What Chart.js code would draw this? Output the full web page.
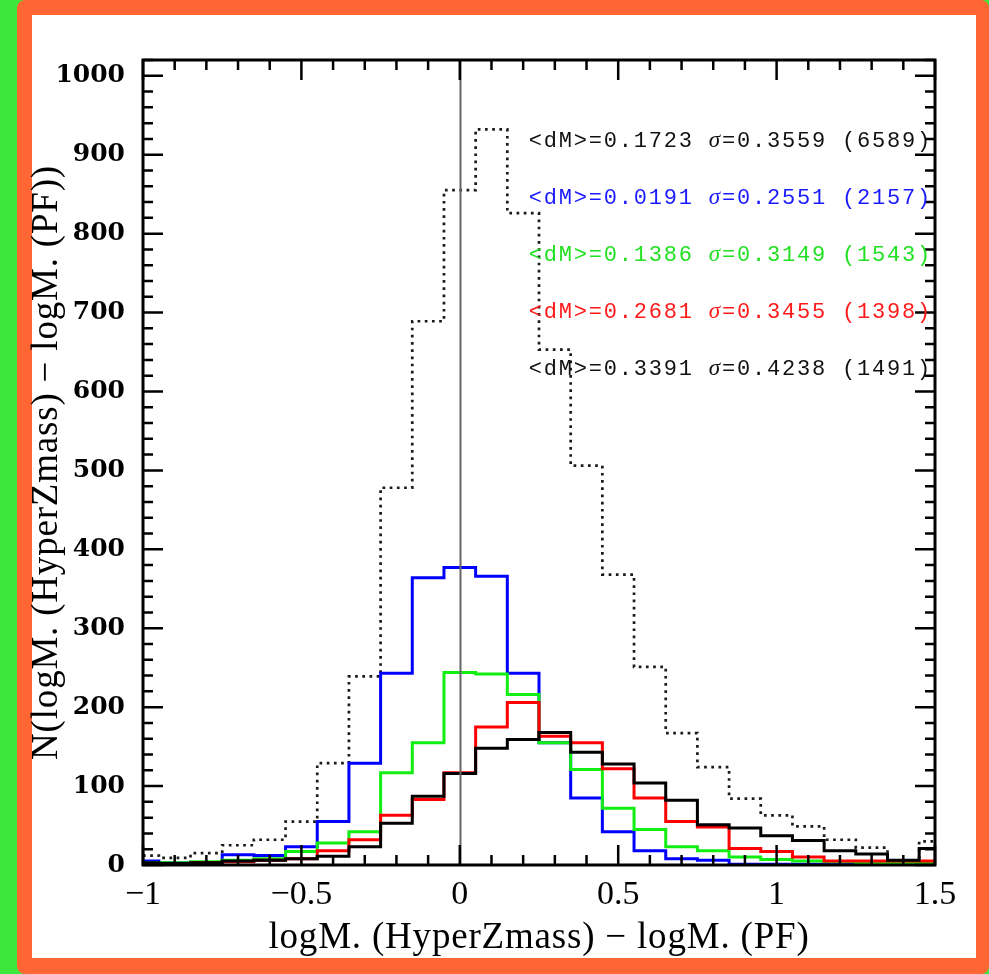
<!DOCTYPE html>
<html lang="en">
<head>
<meta charset="UTF-8">
<title>logM. (HyperZmass) - logM. (PF)</title>
<script src="https://cdn.jsdelivr.net/npm/chart.js"></script>
<style>
    html, body { margin: 0; padding: 0; }
    body {
        width: 989px;
        height: 974px;
        position: relative;
        overflow: hidden;
        background: #3de83d;
    }
    .frame {
        position: absolute;
        left: 17px;
        top: 0;
        width: 972px;
        height: 974px;
        box-sizing: border-box;
        border: solid #ff6633;
        border-width: 15px 13px 16px 15px;
        border-radius: 8px;
        background: #fff;
    }
    .chart-box {
        position: absolute;
        left: 0;
        top: 0;
        width: 989px;
        height: 974px;
    }
</style>
</head>
<body>
<div class="frame"></div>
<div class="chart-box"><canvas id="histChart"></canvas></div>

<script>
    // bin centres of the 0.1 wide histogram bins
    const binCenters = [-1.0, -0.9, -0.8, -0.7, -0.6, -0.5, -0.4, -0.3, -0.2, -0.1, 0.0, 0.1, 0.2,
                        0.3, 0.4, 0.5, 0.6, 0.7, 0.8, 0.9, 1.0, 1.1, 1.2, 1.3, 1.4, 1.5];

    const allCounts   = [12, 9, 15, 25, 32, 55, 129, 239, 478, 689, 855, 932, 826,
                         653, 506, 368, 251, 167, 124, 84, 63, 49, 32, 22, 6, 30];
    const blueCounts  = [5, 3, 3, 13, 12, 23, 55, 129, 243, 364, 377, 366, 243,
                         155, 85, 42, 18, 8, 6, 1, 1, 1, 1, 0, 0, 2];
    const greenCounts = [3, 3, 4, 6, 8, 17, 28, 42, 117, 155, 244, 242, 216,
                         155, 121, 72, 45, 23, 18, 10, 7, 5, 4, 3, 2, 3];
    const redCounts   = [2, 2, 3, 4, 6, 8, 18, 32, 63, 83, 117, 175, 206,
                         163, 155, 122, 85, 55, 48, 21, 17, 10, 5, 5, 5, 5];
    const blackCounts = [3, 2, 3, 5, 6, 8, 11, 23, 53, 87, 116, 148, 159,
                         168, 143, 128, 104, 82, 51, 47, 37, 31, 18, 14, 6, 21];

    // statistics printed in the upper right
    const meanDM  = [0.1723, 0.0191, 0.1386, 0.2681, 0.3391];
    const sigmaDM = [0.3559, 0.2551, 0.3149, 0.3455, 0.4238];
    const nObj    = [6589, 2157, 1543, 1398, 1491];
    const statColors = ['#111111', '#1a1aff', '#22e022', '#ff1a1a', '#111111'];

    const xMinorStep = 0.1;
    const yMinorStep = 20;

    const toPoints = counts => binCenters.map((c, i) => ({ x: c, y: counts[i] }));

    const serif = '"Liberation Serif", "Times New Roman", serif';

    const axisDecor = {
        id: 'axisDecor',
        afterDatasetsDraw(chart) {
            const { ctx, chartArea: a, scales: { x, y } } = chart;
            ctx.save();

            // vertical line at zero
            const x0 = Math.round(x.getPixelForValue(0)) + 0.5;
            ctx.strokeStyle = '#666666';
            ctx.lineWidth = 2;
            ctx.beginPath();
            ctx.moveTo(x0, a.top);
            ctx.lineTo(x0, a.bottom);
            ctx.stroke();

            // inward ticks on all four sides
            ctx.strokeStyle = '#000';
            ctx.lineWidth = 2.5;
            ctx.beginPath();
            const nx = Math.round((x.max - x.min) / xMinorStep);
            for (let i = 0; i <= nx; i++) {
                const px = x.getPixelForValue(x.min + i * xMinorStep);
                const len = i % 5 === 0 ? 20 : 10;
                ctx.moveTo(px, a.bottom); ctx.lineTo(px, a.bottom - len);
                ctx.moveTo(px, a.top); ctx.lineTo(px, a.top + len);
            }
            for (let v = 0; v <= y.max; v += yMinorStep) {
                const py = y.getPixelForValue(v);
                const len = v % 100 === 0 ? 20 : 10;
                ctx.moveTo(a.left, py); ctx.lineTo(a.left + len, py);
                ctx.moveTo(a.right, py); ctx.lineTo(a.right - len, py);
            }
            ctx.stroke();

            ctx.lineWidth = 3;
            ctx.strokeRect(a.left, a.top, a.right - a.left, a.bottom - a.top);

            // statistics text
            ctx.textBaseline = 'alphabetic';
            ctx.letterSpacing = '1.8px';
            const mono = '22px "Liberation Mono", "DejaVu Sans Mono", monospace';
            const ital = 'italic 23px "Liberation Serif", serif';
            meanDM.forEach((m, i) => {
                const p1 = '<dM>=' + m.toFixed(4) + ' ';
                const p2 = '=' + sigmaDM[i].toFixed(4) + ' (' + nObj[i] + ')';
                ctx.font = mono;
                const w1 = ctx.measureText(p1).width;
                const w3 = ctx.measureText(p2).width;
                ctx.font = ital;
                const w2 = ctx.measureText('σ').width;
                const right = a.right - 3;
                const left = right - (w1 + w2 + w3);
                const base = a.top + 86.5 + i * 57;
                ctx.fillStyle = statColors[i];
                ctx.font = mono;
                ctx.fillText(p1, left, base);
                ctx.font = ital;
                ctx.fillText('σ', left + w1, base);
                ctx.font = mono;
                ctx.fillText(p2, left + w1 + w2, base);
            });

            // axis titles
            ctx.letterSpacing = '0.8px';
            ctx.fillStyle = '#000';
            ctx.font = '37px ' + serif;
            ctx.textAlign = 'center';
            ctx.textBaseline = 'alphabetic';
            ctx.fillText('logM. (HyperZmass) \u2212 logM. (PF)', (a.left + a.right) / 2, 948);

            ctx.translate(57, (a.top + a.bottom) / 2);
            ctx.rotate(-Math.PI / 2);
            ctx.fillText('N(logM. (HyperZmass) \u2212 logM. (PF))', 0, 0);
            ctx.restore();
        }
    };

    function noPad(scale) {
        scale.paddingLeft = 0;
        scale.paddingRight = 0;
        scale.paddingTop = 0;
        scale.paddingBottom = 0;
    }

    function drawHistogram(id) {
        const ctx = document.getElementById(id).getContext('2d');
        const line = (data, color, order, dash) => ({
            data: toPoints(data),
            borderColor: color,
            borderWidth: dash ? 2.7 : 3,
            borderDash: dash || [],
            borderCapStyle: 'butt',
            stepped: 'middle',
            pointRadius: 0,
            fill: false,
            order: order
        });
        new Chart(ctx, {
            type: 'line',
            data: {
                datasets: [
                    line(allCounts, '#1a1a1a', 4, [2.7, 4.5]),
                    line(blueCounts, '#0000ff', 3),
                    line(greenCounts, '#11ee11', 2),
                    line(redCounts, '#ff0000', 1),
                    line(blackCounts, '#000000', 0)
                ]
            },
            options: {
                responsive: true,
                maintainAspectRatio: false,
                animation: false,
                layout: { padding: { left: 0, top: 60, right: 54, bottom: 0 } },
                plugins: { legend: { display: false }, tooltip: { enabled: false } },
                scales: {
                    x: {
                        type: 'linear',
                        min: -1,
                        max: 1.5,
                        grid: { display: false, drawTicks: false },
                        border: { display: false },
                        ticks: {
                            stepSize: 0.5,
                            includeBounds: false,
                            autoSkip: false,
                            maxRotation: 0,
                            padding: 10,
                            color: '#000',
                            font: { family: serif, size: 34 },
                            callback: v => v < 0 ? '\u2212' + Math.abs(v) : String(v)
                        },
                        afterFit: s => { s.height = 109; noPad(s); }
                    },
                    y: {
                        min: 0,
                        max: 1020,
                        grid: { display: false, drawTicks: false },
                        border: { display: false },
                        ticks: {
                            stepSize: 100,
                            includeBounds: false,
                            autoSkip: false,
                            padding: 18,
                            color: '#000',
                            font: { family: '"DejaVu Serif", serif', size: 25, weight: 'bold' },
                            callback: v => String(v)
                        },
                        afterFit: s => { s.width = 143; noPad(s); }
                    }
                }
            },
            plugins: [axisDecor]
        });
    }

    document.addEventListener('DOMContentLoaded', () => drawHistogram('histChart'));
</script>
</body>
</html>
